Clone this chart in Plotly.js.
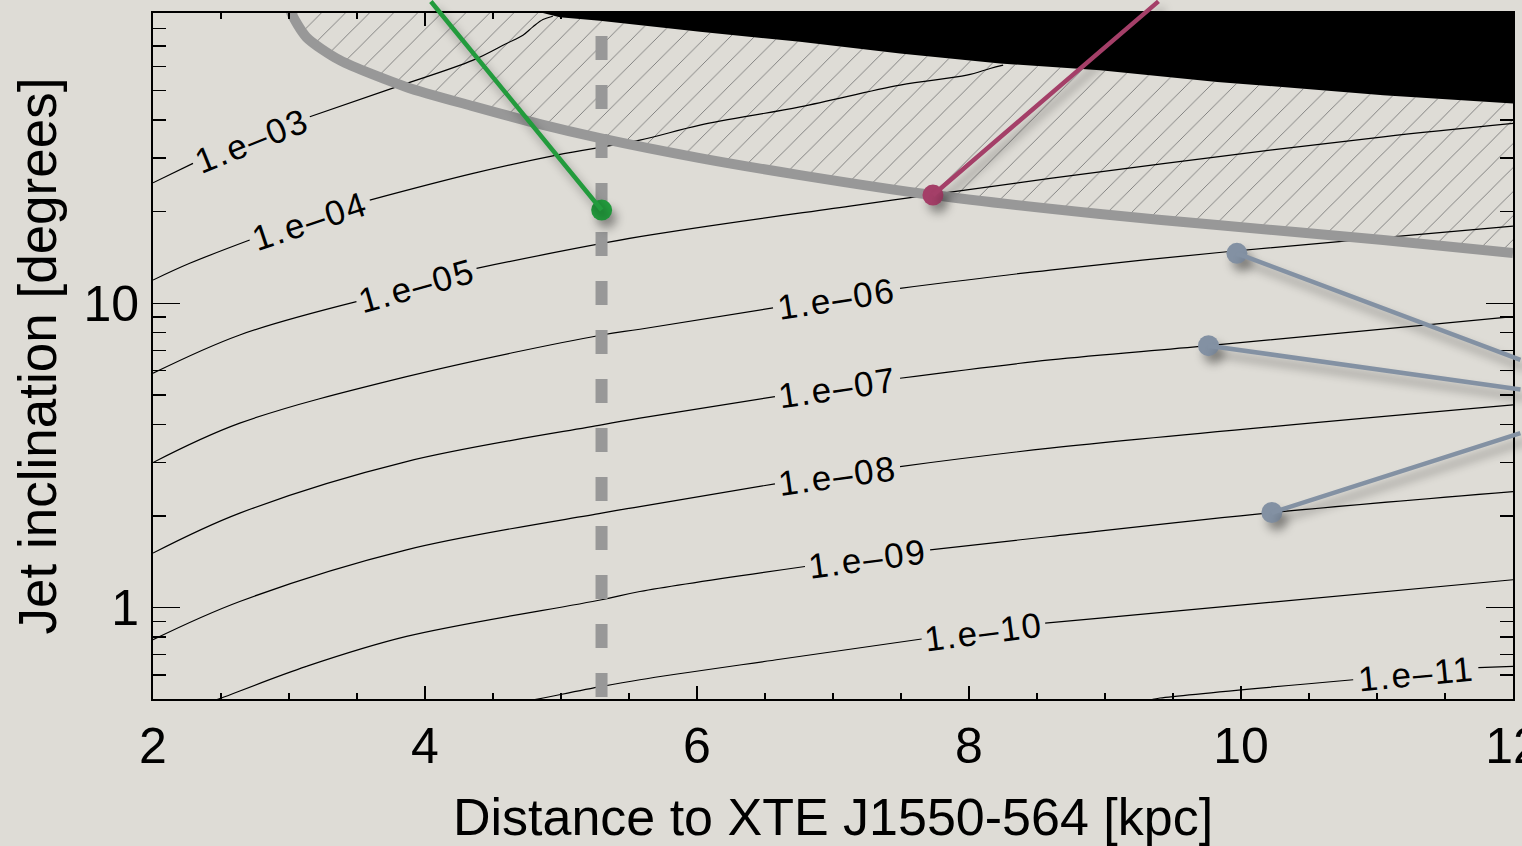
<!DOCTYPE html>
<html>
<head>
<meta charset="utf-8">
<script src="https://cdn.plot.ly/plotly-3.0.1.min.js"></script>
<style>
  html, body { margin: 0; padding: 0; background: #dedcd6; }
  #chart { width: 1522px; height: 846px; }
  .annotation-text { letter-spacing: 2px; }
  .annotation-arrow-g path { filter: drop-shadow(5px 8px 5px rgba(0,0,0,0.35)); }
  .scatterlayer .trace:last-of-type .points path { filter: drop-shadow(5px 8px 5px rgba(0,0,0,0.35)); }
</style>
</head>
<body>
<div id="chart"></div>
<script>
// ---------- axis text ----------
const xTitle = 'Distance to XTE J1550-564 [kpc]';
const yTitle = 'Jet inclination [degrees]';
const xTickVals = [2, 4, 6, 8, 10, 12];
const xTickText = ['2', '4', '6', '8', '10', '12'];
const xMinorVals = [2.5, 3, 3.5, 4.5, 5, 5.5, 6.5, 7, 7.5, 8.5, 9, 9.5, 10.5, 11, 11.5];
const yTickVals = [1, 10];
const yTickText = ['1', '10'];
const yMinorVals = [0.5, 0.6, 0.7, 0.8, 0.9, 2, 3, 4, 5, 6, 7, 8, 9, 20, 30, 40, 50, 60, 70, 80, 90];

// ---------- contour lines (null = gap for the label) ----------
const c03X = [2.000, 2.294, null, 3.153, 3.763, 4.354, 4.600, 4.720, 4.793, 4.867, 4.940];
const c03Y = [24.89, 28.83, null, 41.02, 50.95, 62.98, 71.47, 76.08, 81.03, 85.67, 87.84];
const c04X = [2.000, 2.270, 2.711, null, 3.594, 4.354, 4.967, 5.580, 6.022, 6.757, 7.493, 7.984, 8.155, 8.251];
const c04Y = [11.92, 13.53, 16.14, null, 21.84, 26.73, 30.70, 34.39, 38.52, 44.24, 52.13, 56.22, 59.14, 60.64];
const c05X = [2.000, 2.638, 3.496, null, 4.379, 5.580, 7.125, 8.596, 9.823, 11.046, 12.0];
const c05Y = [5.888, 7.866, 10.12, null, 13.03, 16.55, 20.87, 25.74, 30.30, 35.26, 39.01];
const c06X = [2.000, 2.638, 3.864, 5.299, 5.580, 6.559, null, 7.493, 8.596, 9.896, 11.046, 12.0];
const c06Y = [2.994, 4.034, 5.739, 7.866, 8.214, 9.650, null, 11.20, 12.86, 14.77, 16.44, 17.94];
const c07X = [2.000, 2.638, 3.864, 5.299, 5.580, 6.573, null, 7.493, 8.596, 9.761, 12.0];
const c07Y = [1.509, 2.042, 3.017, 3.982, 4.189, 4.932, null, 5.669, 6.511, 7.254, 9.035];
const c08X = [2.000, 2.638, 3.864, 5.299, 5.580, 6.573, null, 7.493, 8.596, 12.0];
const c08Y = [0.7832, 1.046, 1.547, 2.042, 2.146, 2.549, null, 2.905, 3.339, 4.633];
const c09X = [2.450, 2.503, 3.128, 3.864, 5.299, 5.580, 6.794, null, 7.714, 8.596, 10.227, 12.0];
const c09Y = [0.494, 0.5038, 0.6399, 0.8028, 1.060, 1.128, 1.363, null, 1.547, 1.711, 2.051, 2.404];
const c10X = [4.790, 4.869, 5.299, 5.580, 6.610, 7.652, null, 8.560, 8.964, 12.0];
const c10Y = [0.496, 0.5038, 0.5499, 0.5785, 0.6755, 0.7874, null, 0.8885, 0.9228, 1.233];
const c11X = [9.350, 9.405, 10.825, null, 11.745, 12.0];
const c11Y = [0.4985, 0.5038, 0.5785, null, 0.6336, 0.6399];

// ---------- contour labels ----------
const labelText = ['1.e–03', '1.e–04', '1.e–05', '1.e–06', '1.e–07', '1.e–08', '1.e–09', '1.e–10', '1.e–11'];
const labelX = [2.724, 3.153, 3.938, 7.026, 7.033, 7.033, 7.254, 8.103, 11.285];
const labelY = [34.39, 18.78, 11.48, 10.40, 5.287, 2.722, 1.453, 0.8363, 0.6053];
const labelAngle = [-22, -18.4, -15.6, -8.8, -8.4, -7.9, -7.6, -7.4, -5.5];

// ---------- thick grey limit curve ----------
const limitX = [2.995, 3.018, 3.128, 3.373, 3.866, 4.352, 4.845, 5.286, 6.022, 6.757, 7.735, 8.964, 9.825, 11.046, 12.0];
const limitY = [100, 89.86, 74.93, 62.98, 51.34, 44.47, 38.81, 34.91, 30.01, 26.39, 22.68, 19.65, 18.07, 16.14, 14.63];

// ---------- black excluded region (lower edge) ----------
const blackX = [4.867, 4.940, 4.991, 5.286, 5.580, 6.022, 6.757, 7.493, 8.229, 8.964, 9.825, 11.046, 12.0];
const blackY = [90, 88.5, 87.2, 84.8, 82.07, 78.02, 72.34, 66.24, 61.41, 58.39, 53.43, 48.33, 45.40];

// ---------- dashed distance line ----------
const distX = [5.298, 5.298];
const distY = [109.6, 0.5];

// ---------- highlighted points and their call-out directions ----------
const ptX = [5.299, 7.735, 9.970, 9.761, 10.227];
const ptY = [20.25, 22.68, 14.59, 7.254, 2.051];
const ptColor = ['#239b3d', '#a43f68', '#8391a3', '#8391a3', '#8391a3'];
const ptAx = [-172, 227, 285, 314, 250];
const ptAy = [-210, -195, 107, 44, -80];

const FONT = 'Liberation Sans, Arial, Helvetica, sans-serif';

const traces = [];

// hatched region between grey curve and black region
const hatchX = limitX.concat([12.0]).concat(blackX.slice().reverse());
const hatchY = limitY.concat([45.40]).concat(blackY.slice().reverse());
traces.push({
  x: hatchX, y: hatchY, mode: 'lines', fill: 'toself',
  line: {width: 0, color: 'rgba(0,0,0,0)'},
  fillcolor: 'rgba(0,0,0,0)',
  fillpattern: {shape: '/', fgcolor: '#737373', bgcolor: 'rgba(0,0,0,0)', size: 17, solidity: 0.05},
  hoverinfo: 'skip'
});

// contours
[[c03X, c03Y], [c04X, c04Y], [c05X, c05Y], [c06X, c06Y], [c07X, c07Y],
 [c08X, c08Y], [c09X, c09Y], [c10X, c10Y], [c11X, c11Y]].forEach(function (c) {
  traces.push({
    x: c[0], y: c[1], mode: 'lines', connectgaps: false,
    line: {color: '#000', width: 1.2, shape: 'spline', smoothing: 1.0},
    hoverinfo: 'skip'
  });
});

// black region
traces.push({
  x: blackX.concat([12.0, 4.867]), y: blackY.concat([95, 95]),
  mode: 'lines', fill: 'toself', fillcolor: '#000',
  line: {width: 0, color: '#000'}, hoverinfo: 'skip'
});

// grey limit curve
traces.push({
  x: limitX, y: limitY, mode: 'lines',
  line: {color: '#989898', width: 10, shape: 'spline', smoothing: 0.7},
  hoverinfo: 'skip'
});

// dashed vertical line
traces.push({
  x: distX, y: distY, mode: 'lines',
  line: {color: '#989898', width: 12, dash: '24px,25px'},
  hoverinfo: 'skip'
});

// dots (last trace)
traces.push({
  x: ptX, y: ptY, mode: 'markers',
  marker: {size: 21, color: ptColor, line: {width: 0}},
  hoverinfo: 'skip'
});

const annotations = [];
for (let i = 0; i < labelText.length; i++) {
  annotations.push({
    x: labelX[i], y: Math.log10(labelY[i]), xref: 'x', yref: 'y',
    text: labelText[i], showarrow: false, textangle: labelAngle[i],
    xanchor: 'center', yanchor: 'middle',
    font: {family: FONT, size: 35, color: '#000'}
  });
}
for (let i = 0; i < ptX.length; i++) {
  annotations.push({
    x: ptX[i], y: Math.log10(ptY[i]), xref: 'x', yref: 'y',
    text: '', showarrow: true, arrowhead: 0, arrowwidth: 4.5,
    arrowcolor: ptColor[i], ax: ptAx[i], ay: ptAy[i], standoff: 0, startstandoff: 0
  });
}

const layout = {
  width: 1522, height: 846,
  margin: {l: 153, r: 9, t: 13, b: 147},
  paper_bgcolor: '#dedcd6', plot_bgcolor: '#dedcd6',
  showlegend: false,
  font: {family: FONT, color: '#000'},
  annotations: annotations,
  xaxis: {
    range: [2, 12], showgrid: false, zeroline: false,
    showline: true, linecolor: '#000', linewidth: 2, mirror: 'ticks',
    ticks: 'inside', ticklen: 13, tickwidth: 1.5, tickcolor: '#000',
    tickmode: 'array', tickvals: xTickVals, ticktext: xTickText,
    tickfont: {family: FONT, size: 50, color: '#000'},
    ticklabelstandoff: 2, ticklabeloverflow: 'allow',
    minor: {tickmode: 'array', tickvals: xMinorVals, ticks: 'inside', ticklen: 6, tickwidth: 1.5, tickcolor: '#000', showgrid: false},
    title: {text: xTitle, font: {family: FONT, size: 52, color: '#000'}, standoff: 27}
  },
  yaxis: {
    type: 'log', range: [Math.log10(0.5), Math.log10(90)],
    showgrid: false, zeroline: false,
    showline: true, linecolor: '#000', linewidth: 2, mirror: 'ticks',
    ticks: 'inside', ticklen: 27, tickwidth: 1.5, tickcolor: '#000',
    tickmode: 'array', tickvals: yTickVals, ticktext: yTickText,
    tickfont: {family: FONT, size: 50, color: '#000'},
    ticklabelstandoff: 2, ticklabeloverflow: 'allow',
    minor: {tickmode: 'array', tickvals: yMinorVals, ticks: 'inside', ticklen: 13, tickwidth: 1.5, tickcolor: '#000', showgrid: false},
    title: {text: yTitle, font: {family: FONT, size: 53, color: '#000'}, standoff: 10}
  }
};

Plotly.newPlot('chart', traces, layout, {displayModeBar: false, staticPlot: true});
</script>
</body>
</html>
